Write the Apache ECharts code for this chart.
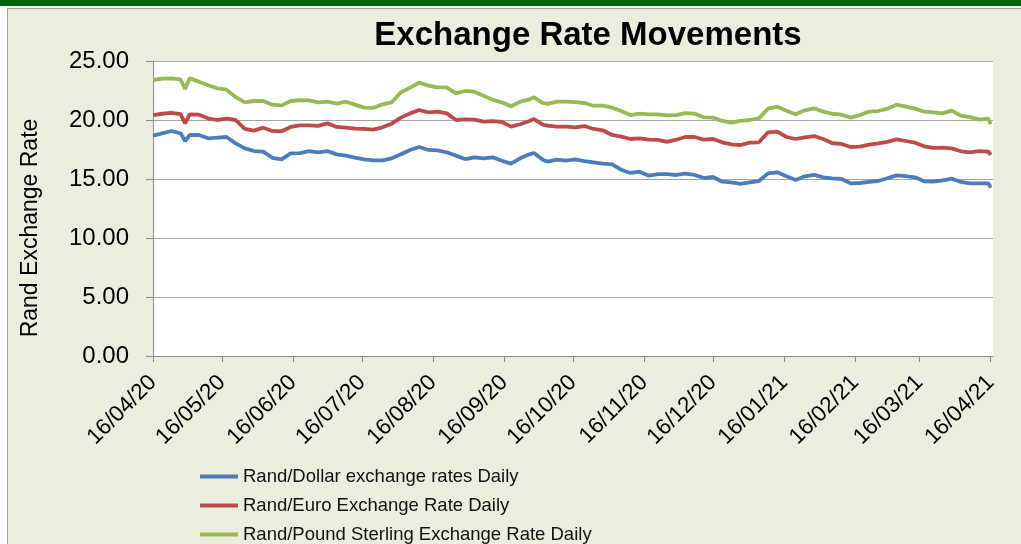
<!DOCTYPE html>
<html>
<head>
<meta charset="utf-8">
<script src="https://cdn.jsdelivr.net/npm/echarts@6/dist/echarts.min.js"></script>
<style>
html,body{margin:0;padding:0;background:#fff;}
#chart{width:1021px;height:544px;}
</style>
</head>
<body>
<div id="chart"></div>
<script>
const dates = ['2020-04-16','2020-04-20','2020-04-24','2020-04-28','2020-04-30','2020-05-02','2020-05-06','2020-05-10','2020-05-14','2020-05-18','2020-05-22','2020-05-26','2020-05-30','2020-06-03','2020-06-07','2020-06-11','2020-06-15','2020-06-19','2020-06-23','2020-06-27','2020-07-01','2020-07-05','2020-07-09','2020-07-13','2020-07-17','2020-07-21','2020-07-25','2020-07-29','2020-08-02','2020-08-06','2020-08-10','2020-08-14','2020-08-18','2020-08-22','2020-08-26','2020-08-30','2020-09-03','2020-09-07','2020-09-11','2020-09-15','2020-09-19','2020-09-23','2020-09-27','2020-09-29','2020-10-03','2020-10-05','2020-10-09','2020-10-13','2020-10-17','2020-10-21','2020-10-25','2020-10-29','2020-11-02','2020-11-06','2020-11-10','2020-11-14','2020-11-18','2020-11-22','2020-11-26','2020-11-30','2020-12-04','2020-12-08','2020-12-12','2020-12-16','2020-12-20','2020-12-24','2020-12-28','2021-01-01','2021-01-05','2021-01-09','2021-01-13','2021-01-17','2021-01-21','2021-01-25','2021-01-29','2021-02-02','2021-02-06','2021-02-10','2021-02-14','2021-02-18','2021-02-22','2021-02-26','2021-03-02','2021-03-06','2021-03-10','2021-03-14','2021-03-18','2021-03-22','2021-03-26','2021-03-30','2021-04-03','2021-04-07','2021-04-11','2021-04-15','2021-04-16'];

const randDollar = [18.67,18.87,19.07,18.87,18.22,18.73,18.73,18.45,18.50,18.56,18.02,17.60,17.37,17.32,16.80,16.66,17.17,17.20,17.37,17.26,17.37,17.09,16.98,16.81,16.66,16.58,16.58,16.75,17.09,17.46,17.71,17.46,17.43,17.26,16.98,16.69,16.84,16.75,16.84,16.55,16.30,16.75,17.09,17.20,16.61,16.47,16.64,16.55,16.66,16.52,16.41,16.30,16.24,15.79,15.51,15.62,15.28,15.42,15.42,15.34,15.45,15.34,15.08,15.17,14.77,14.72,14.58,14.72,14.83,15.48,15.57,15.23,14.92,15.23,15.36,15.14,15.06,15.00,14.63,14.66,14.75,14.83,15.06,15.31,15.25,15.14,14.80,14.77,14.89,15.03,14.75,14.63,14.63,14.63,14.27];

const randEuro = [20.42,20.53,20.61,20.50,19.72,20.47,20.45,20.14,20.00,20.11,20.00,19.24,19.10,19.35,19.07,19.04,19.41,19.55,19.55,19.50,19.72,19.41,19.35,19.27,19.24,19.18,19.38,19.69,20.20,20.56,20.85,20.65,20.71,20.56,20.00,20.06,20.03,19.86,19.90,19.83,19.44,19.64,19.92,20.08,19.58,19.52,19.44,19.44,19.38,19.49,19.24,19.13,18.73,18.59,18.39,18.45,18.33,18.31,18.14,18.33,18.56,18.56,18.33,18.39,18.11,17.94,17.88,18.08,18.11,18.96,19.01,18.56,18.39,18.53,18.64,18.39,18.03,17.97,17.71,17.74,17.91,18.02,18.14,18.36,18.22,18.08,17.77,17.63,17.66,17.60,17.35,17.26,17.37,17.32,17.04];

const randPound = [23.39,23.50,23.53,23.45,22.63,23.53,23.25,22.94,22.69,22.57,21.95,21.50,21.61,21.61,21.30,21.24,21.61,21.69,21.67,21.50,21.55,21.38,21.55,21.30,21.05,21.02,21.33,21.50,22.34,22.74,23.16,22.91,22.77,22.77,22.26,22.46,22.40,22.06,21.72,21.50,21.16,21.55,21.75,21.92,21.44,21.36,21.55,21.55,21.52,21.44,21.21,21.21,21.05,20.76,20.42,20.54,20.48,20.48,20.40,20.42,20.59,20.54,20.23,20.20,19.92,19.77,19.92,20.00,20.14,20.96,21.13,20.79,20.48,20.82,20.99,20.71,20.53,20.45,20.20,20.42,20.71,20.76,20.96,21.30,21.13,20.96,20.71,20.65,20.56,20.79,20.37,20.25,20.03,20.11,19.63];

const tickDates = ['2020-04-16','2020-05-16','2020-06-16','2020-07-16','2020-08-16','2020-09-16','2020-10-16','2020-11-16','2020-12-16','2021-01-16','2021-02-16','2021-03-16','2021-04-16'];

const seriesNames = ['Rand/Dollar exchange rates Daily','Rand/Euro Exchange Rate Daily','Rand/Pound Sterling Exchange Rate Daily'];
const seriesColors = ['#4a7ebb','#be4b48','#98b954'];

function ts(s){ const p = s.split('-'); return Date.UTC(+p[0], +p[1]-1, +p[2]); }
function pad(n){ return (n<10?'0':'')+n; }
function fmt(v){ const d = new Date(v); return pad(d.getUTCDate())+'/'+pad(d.getUTCMonth()+1)+'/'+String(d.getUTCFullYear()).slice(2); }

const tickTs = tickDates.map(ts);
const font = '"Liberation Sans", Arial, sans-serif';

function mk(vals){ return dates.map((d,i)=>[ts(d), vals[i]]); }
const allVals = [randDollar, randEuro, randPound];

const chart = echarts.init(document.getElementById('chart'), null, {renderer:'canvas'});
chart.setOption({
  animation:false,
  backgroundColor:'#ebeedd',
  textStyle:{fontFamily:font},
  title:{
    text:'Exchange Rate Movements',
    left:583, top:14, textAlign:'center',
    textStyle:{fontFamily:font, fontSize:33, fontWeight:'bold', color:'#000'}
  },
  grid:{left:153, top:61, right:28, bottom:188, show:true, backgroundColor:'#ffffff', borderWidth:0},
  legend:{
    orient:'vertical', left:195, top:461, height:140, icon:'rect', itemWidth:38, itemHeight:4, itemGap:8,
    textStyle:{fontFamily:font, fontSize:18.5, color:'#111', lineHeight:21},
    data:seriesNames
  },
  xAxis:{
    type:'value',
    min:ts('2020-04-16'), max:ts('2021-04-17'),
    axisLine:{show:true, lineStyle:{color:'#8c8c8c', width:1}},
    axisTick:{show:true, length:6, customValues:tickTs, lineStyle:{color:'#8c8c8c'}},
    axisLabel:{customValues:tickTs, rotate:45, margin:23, fontSize:22.5, color:'#000', fontFamily:font, formatter:fmt},
    splitLine:{show:false}
  },
  yAxis:{
    type:'value', min:0, max:25, interval:5,
    axisLine:{show:true, lineStyle:{color:'#8c8c8c', width:1}},
    axisTick:{show:true, length:7, lineStyle:{color:'#8c8c8c'}},
    axisLabel:{margin:24, fontSize:24, color:'#000', fontFamily:font, formatter:v=>v.toFixed(2)},
    splitLine:{show:true, lineStyle:{color:'#a6a6a6', width:1}}
  },
  graphic:[
    {type:'rect', shape:{x:0,y:0,width:1021,height:6}, style:{fill:'#006400'}, z:100},
    {type:'rect', shape:{x:0,y:6,width:1021,height:2}, style:{fill:'#ffffff'}, z:100},
    {type:'rect', shape:{x:0,y:6,width:7,height:540}, style:{fill:'#ffffff'}, z:100},
    {type:'line', shape:{x1:7,y1:8.5,x2:1021,y2:8.5}, style:{stroke:'#a0a0a0', lineWidth:1}, z:100},
    {type:'line', shape:{x1:7.5,y1:8,x2:7.5,y2:544}, style:{stroke:'#a0a0a0', lineWidth:1}, z:100},
    {type:'text', x:31, y:228, rotation:Math.PI/2, z:100,
     style:{text:'Rand Exchange Rate', fontFamily:font, fontSize:23, fill:'#000', align:'center', verticalAlign:'middle'}}
  ],
  series: seriesNames.map((n,i)=>({
    name:n, type:'line', data:mk(allVals[i]), showSymbol:false, symbol:'none',
    lineStyle:{color:seriesColors[i], width:3.8}, itemStyle:{color:seriesColors[i]}
  }))
});
</script>
</body>
</html>
